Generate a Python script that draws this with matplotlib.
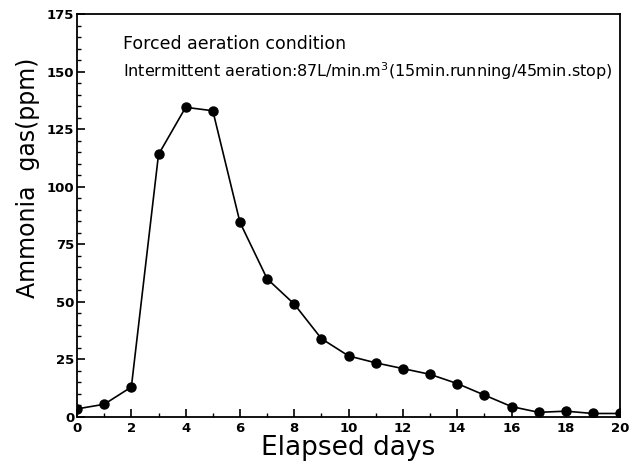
import matplotlib
matplotlib.use('Agg')
import matplotlib.pyplot as plt
from matplotlib.ticker import MultipleLocator

days = [0, 1, 2, 3, 4, 5, 6, 7, 8, 9, 10, 11, 12, 13, 14, 15, 16, 17, 18, 19, 20]
ammonia = [3.5, 5.5, 13, 114, 134.5, 133, 84.5, 60, 49, 34, 26.5, 23.5, 21, 18.5,
           14.5, 9.5, 4.5, 2, 2.5, 1.5, 1.5]

fig = plt.figure(figsize=(6.42, 4.69), dpi=100)
ax = fig.add_axes([0.12, 0.111, 0.846, 0.859])

ax.plot(days, ammonia, color='black', linewidth=1.2, marker='o', markersize=6.5)

ax.set_xlim(0, 20)
ax.set_ylim(0, 175)
ax.xaxis.set_major_locator(MultipleLocator(2))
ax.xaxis.set_minor_locator(MultipleLocator(1))
ax.yaxis.set_major_locator(MultipleLocator(25))
ax.yaxis.set_minor_locator(MultipleLocator(5))
ax.tick_params(which='both', direction='in', top=False, right=False)
ax.tick_params(which='major', length=6, width=1.2, labelsize=9.5)
ax.tick_params(axis='y', which='major', pad=2)
ax.tick_params(which='minor', length=3, width=1)
for lab in ax.get_xticklabels() + ax.get_yticklabels():
    lab.set_fontweight('bold')
for s in ax.spines.values():
    s.set_linewidth(1.3)

ax.set_xlabel('Elapsed days', fontsize=19, labelpad=0)
ax.set_ylabel('Ammonia  gas(ppm)', fontsize=17)
ax.yaxis.set_label_coords(-0.068, 0.593)

ax.text(1.7, 162, 'Forced aeration condition', fontsize=12.5, va='center')
ax.text(1.7, 150, 'Intermittent aeration:87L/min.m$^3$(15min.running/45min.stop)',
        fontsize=11.5, va='center')

fig.savefig('out.png', dpi=100)
